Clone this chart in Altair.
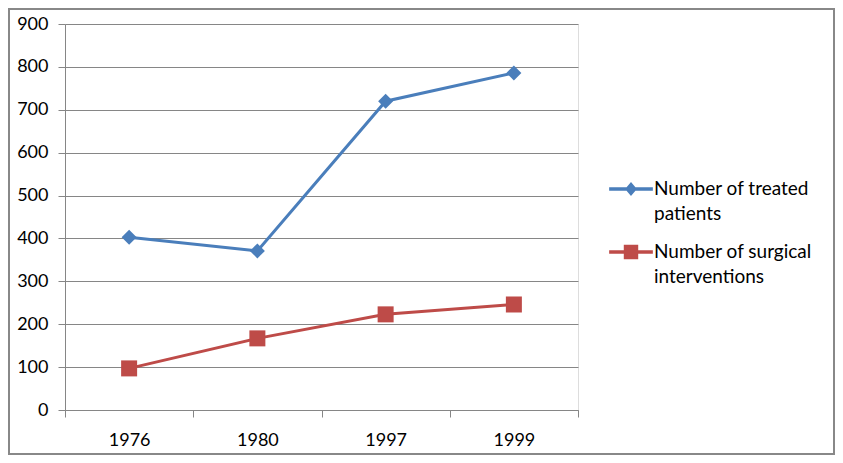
import altair as alt
import pandas as pd

years = ["1976", "1980", "1997", "1999"]
treated = [403, 371, 720, 786]
surgical = [97, 167, 223, 246]
series_names = ["Number of treated patients", "Number of surgical interventions"]
legend_lines = [["Number of treated", "patients"], ["Number of surgical", "interventions"]]
colors = ["#4A7EBB", "#BE4B48"]
marker_shapes = ["diamond", "square"]
marker_sizes = [225, 256]
y_ticks = list(range(0, 901, 100))

# legend symbols: line stub with marker, in unit coordinates
legend_paths = [
    "M-1,-0.075L1,-0.075L1,0.075L-1,0.075Z M0,-0.32L0.27,0L0,0.32L-0.27,0Z",
    "M-1,-0.075L1,-0.075L1,0.075L-1,0.075Z M-0.33,-0.33L0.33,-0.33L0.33,0.33L-0.33,0.33Z",
]
legend_tops = [143, 206]

rows = []
for name, vals in zip(series_names, [treated, surgical]):
    for yr, v in zip(years, vals):
        rows.append({"year": yr, "value": v, "series": name})
df = pd.DataFrame(rows)

FONT = "Lato"
GRAY = "#868686"


def build(with_style=True):
    x_enc = alt.X(
        "year:N",
        sort=years,
        scale=alt.Scale(type="band", paddingInner=0, paddingOuter=0),
        axis=alt.Axis(
            title=None, tickBand="extent", labelAngle=0, labelPadding=14,
            tickSize=7, grid=False, domainColor=GRAY, tickColor=GRAY,
            labelFont=FONT, labelFontSize=18, labelColor="black",
        ),
    )
    y_enc = alt.Y(
        "value:Q",
        scale=alt.Scale(domain=[0, 900], nice=False),
        axis=alt.Axis(
            title=None, values=y_ticks, gridColor=GRAY, domainColor=GRAY,
            tickColor=GRAY, tickSize=7, labelPadding=10, labelFont=FONT,
            labelFontSize=18, labelColor="black",
        ),
    )
    color_scale = alt.Scale(domain=series_names, range=colors)

    base = alt.Chart(df)
    lines = base.mark_line(strokeWidth=3).encode(
        x=x_enc, y=y_enc, color=alt.Color("series:N", scale=color_scale, legend=None),
        detail="series:N",
    )
    point_layers = []
    for name, shp, sz in zip(series_names, marker_shapes, marker_sizes):
        point_layers.append(
            base.mark_point(filled=True, opacity=1, strokeWidth=0, shape=shp, size=sz).encode(
                x=x_enc, y=y_enc,
                color=alt.Color("series:N", scale=color_scale, legend=None),
            ).transform_filter(alt.datum.series == name)
        )
    legend_layers = []
    for name, lines_txt, path, col, top in zip(series_names, legend_lines, legend_paths, colors, legend_tops):
        expr = "[" + ", ".join(f"'{t}'" for t in lines_txt) + "]"
        leg = alt.Legend(
            title=None, orient="none", legendX=544, legendY=top, padding=0,
            labelFont=FONT, labelFontSize=19, labelColor="black", labelLimit=400,
            labelOffset=1, labelBaseline="middle", symbolSize=1910, symbolOpacity=1,
            symbolFillColor=col, symbolStrokeWidth=0, labelExpr=expr,
        )
        legend_layers.append(
            base.mark_point(filled=True, size=1910, color=col).encode(
                x=x_enc, y=y_enc,
                shape=alt.Shape("series:N", scale=alt.Scale(domain=[name], range=[path]), legend=leg),
            ).transform_filter("datum.value < 0")
        )
    frame = alt.Chart(pd.DataFrame({"f": [0]})).mark_rect(
        fillOpacity=0, stroke="#888888", strokeWidth=2
    ).encode(
        x=alt.value(-56), x2=alt.value(769), y=alt.value(-15), y2=alt.value(430)
    )
    chart = alt.layer(frame, lines, *point_layers, *legend_layers).resolve_scale(
        shape="independent"
    ).properties(
        width=513, height=386,
        autosize=alt.AutoSizeParams(type="none"),
        padding={"left": 57, "top": 16, "right": 257, "bottom": 45},
        background="white",
    ).configure_view(stroke="transparent")
    if with_style:
        chart = chart.configure(style={"guide-label": {"lineHeight": 25}})
    chart.to_dict()
    return chart


try:
    chart = build(True)
except Exception:
    chart = build(False)

chart.save("out.html", embed_options={"renderer": "svg", "actions": False})
